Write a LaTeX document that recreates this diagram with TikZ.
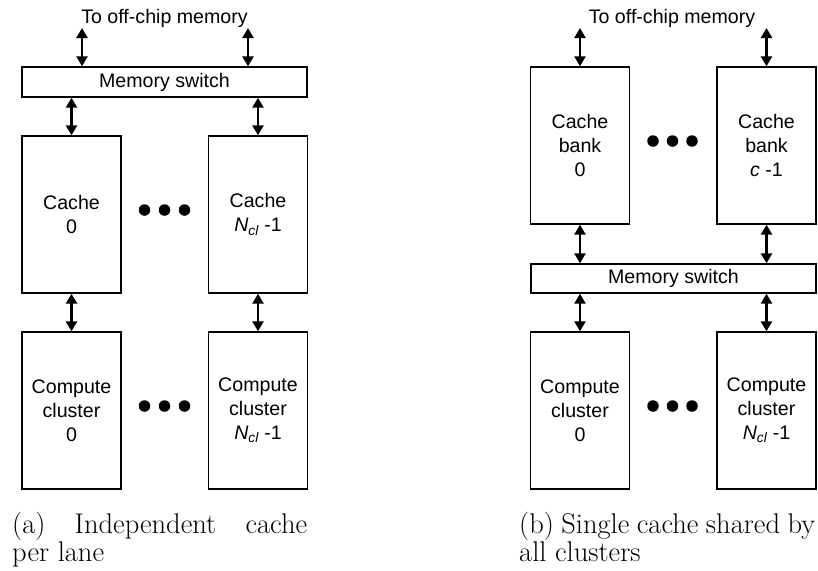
\documentclass[tikz,border=0pt]{standalone}
\usepackage{fontspec}
\newfontfamily\arialf{Liberation Sans}
\usetikzlibrary{arrows.meta,calc}
\tikzset{
  blk/.style={draw,line width=1.4pt,minimum width=99pt,inner sep=0pt,align=center,font=\arialf\fontsize{19.6}{24}\selectfont},
  tallblk/.style={blk,minimum height=157pt},
  swblk/.style={blk,minimum height=30pt},
  biarrow/.style={line width=2.8pt,{Triangle[width=11pt,length=10pt]}-{Triangle[width=11pt,length=10pt]}},
  dotnode/.style={circle,fill,inner sep=0pt,minimum size=11.5pt},
  lbl/.style={font=\arialf\fontsize{19.6}{24}\selectfont,inner sep=0pt},
  capt/.style={font=\fontsize{28.5}{30}\selectfont,inner sep=0pt,anchor=base west}
}
\newcommand{\ncl}{{\itshape N\textsubscript{cl}}}
\begin{document}
\begin{tikzpicture}[x=1pt,y=-1pt]
\useasboundingbox (0,0) rectangle (818,570);
% ---------- (a) ----------
\node[lbl] (offa) at (164.5,18) {To off-chip memory};
\node[swblk,minimum width=285pt] (swa) at (164.5,82) {Memory switch};
\node[tallblk] (ca0) at (71.5,214.5) {Cache\\0};
\node[tallblk] (caN) at (258,214.5) {Cache\\\ncl\ -1};
\node[tallblk] (cla0) at (71.5,410.5) {Compute\\cluster\\0};
\node[tallblk] (claN) at (258,410.5) {Compute\\cluster\\\ncl\ -1};
\coordinate (ta1) at (82,28);
\coordinate (ta2) at (248,28);
\draw[biarrow] (ta1) -- (ta1 |- swa.north);
\draw[biarrow] (ta2) -- (ta2 |- swa.north);
\draw[biarrow] (swa.south -| ca0.north) -- (ca0.north);
\draw[biarrow] (swa.south -| caN.north) -- (caN.north);
\draw[biarrow] (ca0.south) -- (cla0.north);
\draw[biarrow] (caN.south) -- (claN.north);
\node[dotnode] (da1) at (144.5,210) {};
\node[dotnode] (da2) at (164.5,210) {};
\node[dotnode] (da3) at (184.5,210) {};
\node[dotnode] (da4) at (144.5,406) {};
\node[dotnode] (da5) at (164.5,406) {};
\node[dotnode] (da6) at (184.5,406) {};
\node[capt] (capa1) at (12,533.5) {\makebox[295pt][s]{(a) Independent cache}};
\node[capt] (capa2) at (12,561.5) {per lane};
% ---------- (b) ----------
\node[lbl] (offb) at (672,18) {To off-chip memory};
\node[tallblk] (cb0) at (580,145.5) {Cache\\bank\\0};
\node[tallblk] (cbN) at (766.5,145.5) {Cache\\bank\\{\itshape c} -1};
\node[swblk,minimum width=285pt,minimum height=29pt] (swb) at (673.5,278.5) {Memory switch};
\node[tallblk] (clb0) at (580,410.5) {Compute\\cluster\\0};
\node[tallblk] (clbN) at (766.5,410.5) {Compute\\cluster\\\ncl\ -1};
\coordinate (tb1) at (580,28);
\coordinate (tb2) at (766.5,28);
\draw[biarrow] (tb1) -- (cb0.north);
\draw[biarrow] (tb2) -- (cbN.north);
\draw[biarrow] (cb0.south) -- (swb.north -| cb0.south);
\draw[biarrow] (cbN.south) -- (swb.north -| cbN.south);
\draw[biarrow] (swb.south -| clb0.north) -- (clb0.north);
\draw[biarrow] (swb.south -| clbN.north) -- (clbN.north);
\node[dotnode] (db1) at (653,141) {};
\node[dotnode] (db2) at (672.5,141) {};
\node[dotnode] (db3) at (692,141) {};
\node[dotnode] (db4) at (653,406) {};
\node[dotnode] (db5) at (672.5,406) {};
\node[dotnode] (db6) at (692,406) {};
\node[capt] (capb1) at (519,533.5) {\makebox[296pt][s]{(b) Single cache shared by}};
\node[capt] (capb2) at (519,561.5) {all clusters};
\end{tikzpicture}
\end{document}
